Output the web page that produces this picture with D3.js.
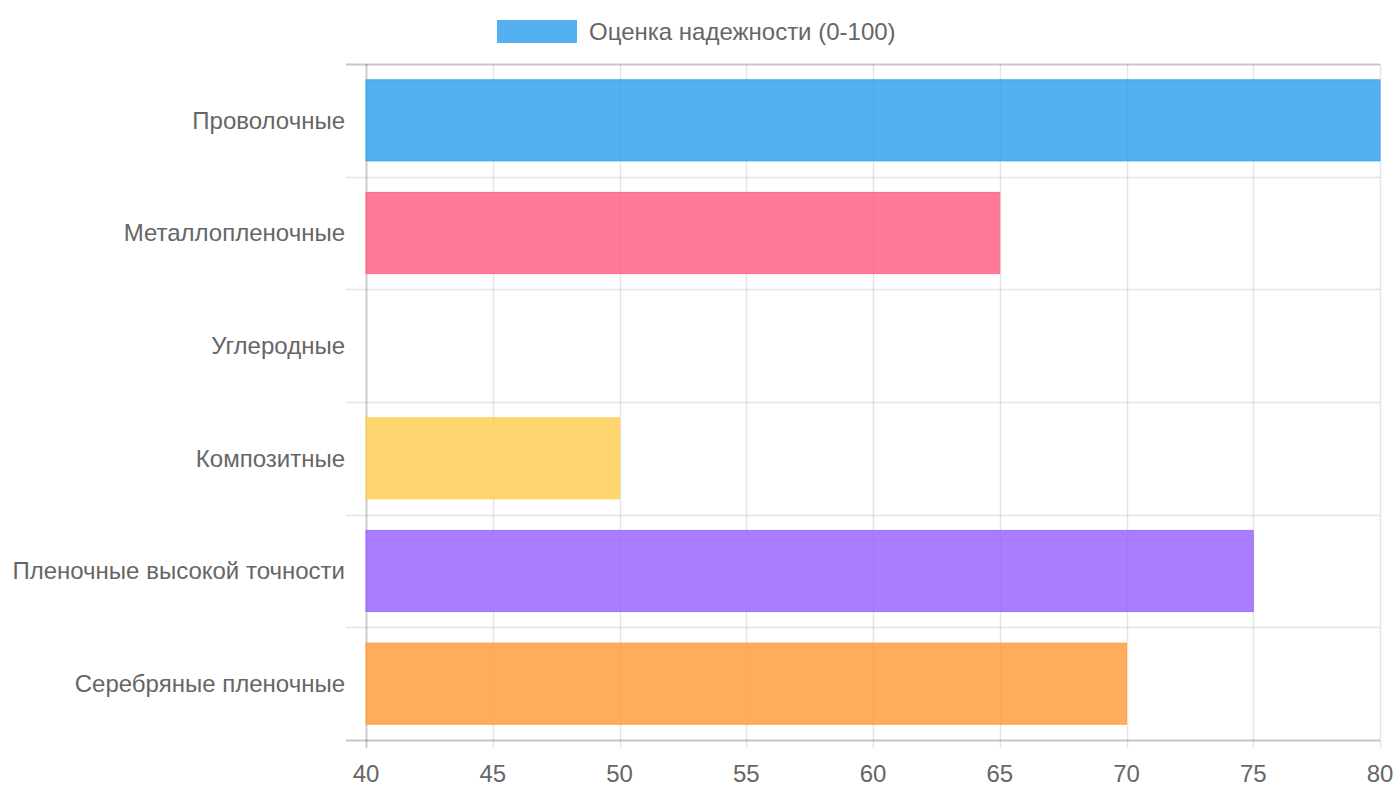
<!DOCTYPE html>
<html>
<head>
<meta charset="utf-8">
<script src="https://cdn.jsdelivr.net/npm/d3@7"></script>
<style>
  body { margin: 0; background: #fff; }
  svg { font-family: "Liberation Sans", Arial, sans-serif; }
</style>
</head>
<body>
<svg id="chart" width="1400" height="800"></svg>
<script>
// Data
const categories = ["Проволочные", "Металлопленочные", "Углеродные", "Композитные", "Пленочные высокой точности", "Серебряные пленочные"];
const values = [80, 65, 40, 50, 75, 70];
const barColors = ["54,162,235", "255,99,132", "75,192,192", "255,206,86", "153,102,255", "255,159,64"];
const xTicks = [40, 45, 50, 55, 60, 65, 70, 75, 80];
const seriesLabel = "Оценка надежности (0-100)";

const svg = d3.select("#chart");
const margin = {top: 64, right: 20, bottom: 60, left: 366};
const width = 1400, height = 800;
const innerW = width - margin.left - margin.right;
const innerH = height - margin.top - margin.bottom;
const fontSize = 24;

const g = svg.append("g").attr("transform", `translate(${margin.left},${margin.top})`);

const x = d3.scaleLinear().domain([40, 80]).range([0, innerW]);
const y = d3.scaleBand().domain(categories).range([0, innerH]);

// vertical gridlines + tick marks
g.append("g")
  .selectAll("line")
  .data(xTicks)
  .join("line")
  .attr("x1", d => Math.round(x(d)) + 0.5)
  .attr("x2", d => Math.round(x(d)) + 0.5)
  .attr("y1", 0)
  .attr("y2", innerH + 8)
  .attr("stroke", d => d === 40 ? "rgba(0,0,0,0.2)" : "rgba(0,0,0,0.1)")
  .attr("stroke-width", d => d === 40 ? 2 : 1.5);

// horizontal gridlines at band edges
const edges = categories.map(c => y(c)).concat([innerH]);
g.append("g")
  .selectAll("line")
  .data(edges)
  .join("line")
  .attr("x1", -20)
  .attr("x2", innerW)
  .attr("y1", d => Math.round(d) + 0.5)
  .attr("y2", d => Math.round(d) + 0.5)
  .attr("stroke", (d, i) => (i === 0 || i === edges.length - 1) ? "rgba(0,0,0,0.22)" : "rgba(0,0,0,0.1)")
  .attr("stroke-width", (d, i) => (i === 0 || i === edges.length - 1) ? 2 : 1.5);

// bars
const barH = y.bandwidth() * 0.72;
g.append("g")
  .selectAll("rect")
  .data(values)
  .join("rect")
  .attr("x", x(40))
  .attr("y", (d, i) => y(categories[i]) + (y.bandwidth() - barH) / 2)
  .attr("width", d => x(d) - x(40))
  .attr("height", barH)
  .attr("fill", (d, i) => `rgba(${barColors[i]},0.85)`)
  .attr("stroke", (d, i) => d > 40 ? `rgba(${barColors[i]},0.9)` : "none")
  .attr("stroke-width", 1);

// x tick labels
g.append("g")
  .selectAll("text")
  .data(xTicks)
  .join("text")
  .attr("x", d => x(d))
  .attr("y", innerH + 34)
  .attr("dy", "0.35em")
  .attr("text-anchor", "middle")
  .attr("font-size", fontSize)
  .attr("fill", "#666")
  .text(d => d);

// y labels
g.append("g")
  .selectAll("text")
  .data(categories)
  .join("text")
  .attr("x", -21)
  .attr("y", d => y(d) + y.bandwidth() / 2)
  .attr("dy", "0.35em")
  .attr("text-anchor", "end")
  .attr("font-size", fontSize)
  .attr("fill", "#666")
  .text(d => d);

// legend
const legend = svg.append("g").attr("transform", "translate(497,20)");
legend.append("rect")
  .attr("width", 80)
  .attr("height", 23)
  .attr("fill", `rgba(${barColors[0]},0.85)`);
legend.append("text")
  .attr("x", 92)
  .attr("y", 12)
  .attr("dy", "0.35em")
  .attr("font-size", fontSize)
  .attr("fill", "#666")
  .text(seriesLabel);
</script>
</body>
</html>
